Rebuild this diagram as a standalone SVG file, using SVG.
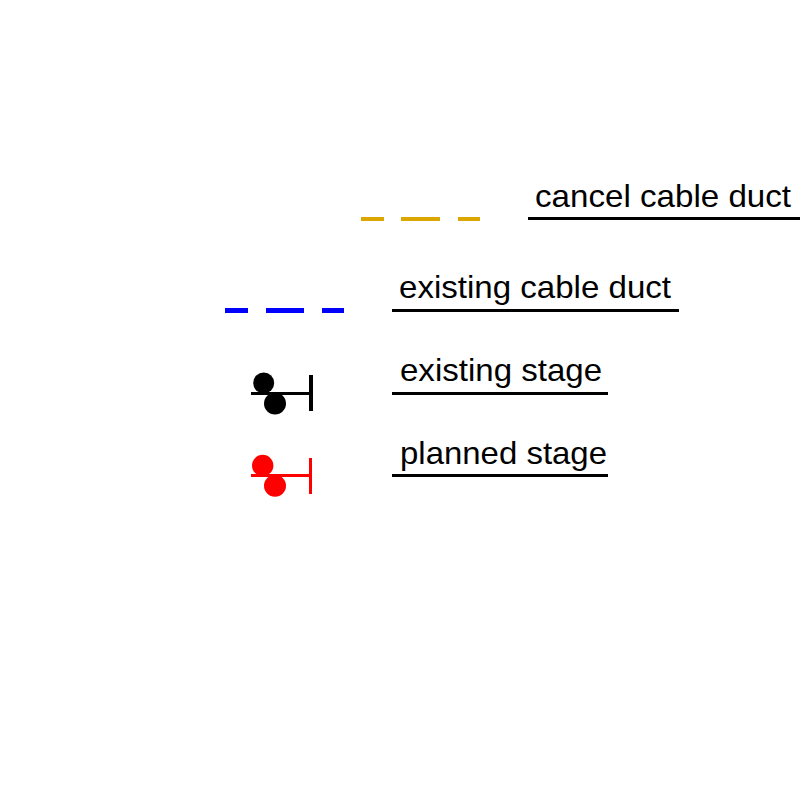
<svg xmlns="http://www.w3.org/2000/svg" width="800" height="800" viewBox="0 0 800 800">
<style>
text{font-family:"Liberation Sans",Arial,sans-serif;font-size:32px;fill:#000}
.u{stroke:#000;stroke-width:3;fill:none}
.o{stroke:#dca600;stroke-width:4;fill:none}
.b{stroke:#0000ff;stroke-width:5;fill:none}
</style>
<rect width="800" height="800" fill="#fff"/>
<g id="connectors">
<path class="o" d="M361 219H384M401 219H440M458 219H480"/>
<path class="b" d="M225 310.500H248M266 310.500H304M322 310.500H344"/>
</g>
<g id="cancel-label"><path class="u" d="M528 218.500H800"/><text x="535" y="207" textLength="256" lengthAdjust="spacingAndGlyphs">cancel cable duct</text></g>
<g id="existing-label"><path class="u" d="M392 310.500H679"/><text x="399" y="298" textLength="272" lengthAdjust="spacingAndGlyphs">existing cable duct</text></g>
<g id="existing-stage-label"><path class="u" d="M392 393.500H608"/><text x="400" y="381" textLength="202" lengthAdjust="spacingAndGlyphs">existing stage</text></g>
<g id="planned-stage-label"><path class="u" d="M392 475.500H608"/><text x="400" y="464" textLength="207" lengthAdjust="spacingAndGlyphs">planned stage</text></g>
<g id="existing-stage"><path d="M251 393.500H311" stroke="#000" stroke-width="3" fill="none"/><path d="M311 375V411" stroke="#000" stroke-width="4" fill="none"/><circle cx="263.700" cy="383" r="10.500"/><circle cx="275" cy="403.500" r="11"/></g>
<g id="planned-stage"><path d="M251 475.500H310M310.500 458V494" stroke="#f00" stroke-width="3" fill="none"/><circle cx="262.700" cy="465.500" r="10.700" fill="#f00"/><circle cx="275" cy="485.700" r="11" fill="#f00"/></g>
</svg>
